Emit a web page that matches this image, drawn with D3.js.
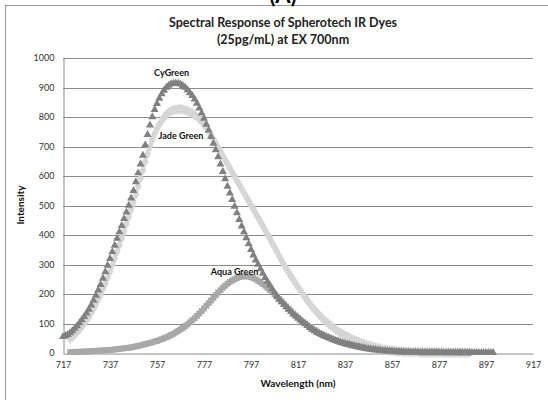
<!DOCTYPE html>
<html><head><meta charset="utf-8">
<script src="https://cdn.jsdelivr.net/npm/d3@7"></script>
<style>body{margin:0;background:#fff}svg{display:block}text{font-family:Lato,"Open Sans",sans-serif}</style>
</head><body>
<script>
const titleLines = ["Spectral Response of Spherotech IR Dyes", "(25pg/mL) at EX 700nm"];
const xTicks = [717, 737, 757, 777, 797, 817, 837, 857, 877, 897, 917];
const yTicks = [0, 100, 200, 300, 400, 500, 600, 700, 800, 900, 1000];

const cyGreenStart = 717;
const cyGreen = [55,58,62,68,75,83,92,102,112,123,135,148,162,178,195,213,232,253,275,297,
320,343,365,388,410,432,455,477,500,525,550,580,610,640,670,705,740,772,800,825,
845,863,878,890,900,907,912,914,915,914,911,906,900,892,882,872,860,846,830,813,
795,775,755,733,710,688,665,640,615,590,565,542,520,497,475,452,430,410,390,370,
350,332,315,300,285,270,255,242,230,217,205,193,182,173,165,156,148,140,132,125,
118,111,105,99,93,86,80,75,70,66,62,58,55,52,49,45,42,39,37,34,
32,30,28,26,24,22,21,19,17,15,14,13,12,11,10,9,8,7,7,6,
6,5,5,4,4,4,3,3,3,3,3,2,2,2,2,2,2,2,2,2,
2,1,1,1,1,1,1,1,1,1,1,1,1,1,1,1,1,1,1,1,1,1,1,1];

const jadeGreenStart = 720;
const jadeGreen = [50,56,63,71,80,90,100,111,123,136,150,165,181,198,216,235,255,276,298,320,
343,366,390,414,438,462,487,512,538,565,592,620,648,675,700,723,743,760,775,788,
799,808,815,820,823,825,826,826,825,823,820,816,812,807,801,794,785,775,764,752,
739,725,711,697,683,669,655,641,627,613,599,585,571,557,543,529,515,501,487,473,
459,445,431,417,403,389,374,359,344,329,314,300,286,273,260,248,236,224,212,200,
189,178,167,157,147,138,129,121,113,106,99,92,86,80,74,69,64,59,55,51,
47,43,40,37,34,31,28,25,23,21,19,17,15,13,12,10,9,8,7,6,
5,5,4,4,4,3,3,3,3,2,2,2,2,2,2,2,2,2,2,1,
1,1,1,1,1,1,1,1,1,1,1];

const aquaGreenStart = 720;
const aquaGreen = [3,3,4,4,4,5,5,5,6,6,7,7,8,8,9,9,10,10,11,12,
13,14,15,16,17,18,19,21,22,24,26,28,30,32,34,36,39,41,44,47,
50,53,57,61,65,70,75,80,85,91,97,104,111,118,126,134,142,151,160,169,
178,187,196,205,213,221,228,235,241,246,250,254,257,259,260,260,259,257,254,250,
245,240,234,228,221,214,207,199,191,183,175,166,158,150,142,134,127,120,113,106,
100,94,88,83,78,73,68,64,60,56,52,49,46,43,40,37,35,32,30,28,
26,24,22,21,19,17,16,15,13,12,11,10,9,8,8,7,6,6,5,5,
5,4,4,4,3,3,3,3,3,2,2,2,2,2,2,2,2,2,2,2,
1,1,1,1,1,1,1,1,1,1,1];

const seriesLabels = [
  {name: "CyGreen", wl: 763.2, v: 940},
  {name: "Jade Green", wl: 767.2, v: 725},
  {name: "Aqua Green", wl: 790, v: 266}
];

const W = 548, H = 400;
const svg = d3.select("body").append("svg").attr("width", W).attr("height", H);

// outer chart border (extends past the image on right/bottom)
svg.append("rect").attr("x", 5.5).attr("y", 5.5).attr("width", 600).attr("height", 500)
  .attr("fill", "none").attr("stroke", "#9a9a9a").attr("stroke-width", 1);

svg.append("text").attr("x", 283).attr("y", 3).attr("text-anchor", "middle")
  .attr("font-weight", "bold").attr("font-size", 22).attr("fill", "#000").text("(A)");

const x = d3.scaleLinear().domain([717, 917]).range([63, 533]);
const y = d3.scaleLinear().domain([0, 1000]).range([353, 58]);

// title
svg.append("g").selectAll("text").data(titleLines).join("text")
  .attr("x", 283).attr("y", (d, i) => 27 + i * 17).attr("text-anchor", "middle")
  .attr("font-weight", "bold").attr("font-size", 12.5).attr("fill", "#222").text(d => d);

// grid
svg.append("g").selectAll("line").data(yTicks.filter(t => t > 0)).join("line")
  .attr("x1", 63).attr("x2", 533).attr("y1", d => Math.round(y(d)) + 0.5).attr("y2", d => Math.round(y(d)) + 0.5)
  .attr("stroke", "#8c8c8c").attr("stroke-width", 1);

// axes
const yAxis = svg.append("g").attr("transform", "translate(63.5,0)")
  .call(d3.axisLeft(y).tickValues(yTicks).tickFormat(d3.format("d")).tickSize(0).tickPadding(9));
yAxis.select(".domain").attr("stroke", "#8c8c8c");
yAxis.selectAll("text").attr("font-size", 9).attr("fill", "#333").attr("font-family", "Lato, 'Open Sans', sans-serif");

const xAxis = svg.append("g").attr("transform", `translate(0,${Math.round(y(0)) + 0.5})`)
  .call(d3.axisBottom(x).tickValues(xTicks).tickFormat(d3.format("d")).tickSize(0).tickPadding(8));
xAxis.select(".domain").attr("stroke", "#8c8c8c");
xAxis.selectAll("text").attr("font-size", 9).attr("fill", "#333").attr("font-family", "Lato, 'Open Sans', sans-serif");

svg.append("text").attr("transform", "translate(24,205) rotate(-90)").attr("text-anchor", "middle")
  .attr("font-weight", "bold").attr("font-size", 10).attr("fill", "#111").text("Intensity");
svg.append("text").attr("x", 298).attr("y", 387).attr("text-anchor", "middle")
  .attr("font-weight", "bold").attr("font-size", 10).attr("fill", "#111").text("Wavelength (nm)");

function pts(start, arr) { return arr.map((v, i) => ({wl: start + i, v})); }

const plot = svg.append("g");
// Jade Green: diamonds
plot.append("g").selectAll("path").data(pts(jadeGreenStart, jadeGreen)).join("path")
  .attr("d", d3.symbol(d3.symbolDiamond, 38))
  .attr("transform", d => `translate(${x(d.wl)},${y(d.v)})`).attr("fill", "#d6d6d6");
// Aqua Green: squares
plot.append("g").selectAll("path").data(pts(aquaGreenStart, aquaGreen)).join("path")
  .attr("d", d3.symbol(d3.symbolSquare, 34))
  .attr("transform", d => `translate(${x(d.wl)},${y(d.v)})`).attr("fill", "#a8a8a8");
// CyGreen: triangles
plot.append("g").selectAll("path").data(pts(cyGreenStart, cyGreen)).join("path")
  .attr("d", d3.symbol(d3.symbolTriangle, 28))
  .attr("transform", d => `translate(${x(d.wl)},${y(d.v)})`).attr("fill", "#808080");

svg.append("g").selectAll("text").data(seriesLabels).join("text")
  .attr("x", d => x(d.wl)).attr("y", d => y(d.v)).attr("text-anchor", "middle")
  .attr("font-weight", "bold").attr("font-size", 9).attr("fill", "#111").text(d => d.name);
</script>
</body></html>
